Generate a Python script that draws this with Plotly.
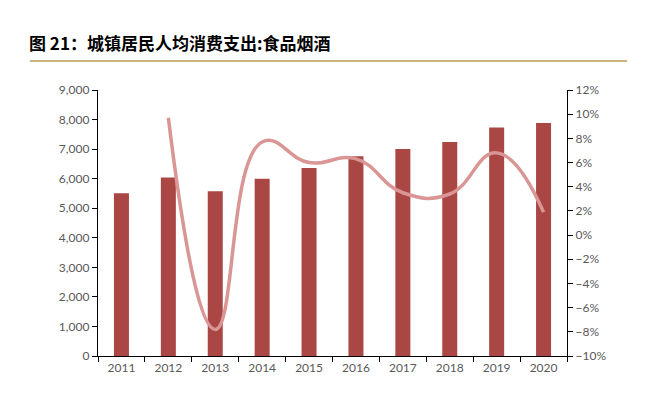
import plotly.graph_objects as go

years = ["2011", "2012", "2013", "2014", "2015", "2016", "2017", "2018", "2019", "2020"]
spending = [5506, 6041, 5571, 6000, 6360, 6762, 7001, 7239, 7733, 7881]
growth_years = ["2012", "2013", "2014", "2015", "2016", "2017", "2018", "2019", "2020"]
growth_pct = [9.7, -7.8, 7.7, 6.0, 6.3, 3.5, 3.4, 6.8, 1.9]

title_text = "图 21：城镇居民人均消费支出:食品烟酒"

bar_color = "#AA4643"
line_color = "#D99694"
tick_font = dict(family="Lato, 'Open Sans', sans-serif", size=12, color="#595959")

fig = go.Figure()
fig.add_trace(go.Bar(x=years, y=spending, marker=dict(color=bar_color, line=dict(width=0)),
                     yaxis="y", showlegend=False))
fig.add_trace(go.Scatter(x=growth_years, y=growth_pct, mode="lines",
                         line=dict(color=line_color, width=3.5, shape="spline", smoothing=1.3),
                         yaxis="y2", showlegend=False))

fig.update_layout(
    width=648, height=385,
    margin=dict(l=90, r=89, t=82, b=37),
    paper_bgcolor="white", plot_bgcolor="white",
    bargap=0.68,
    xaxis=dict(type="category", range=[-0.5, 9.5], showline=True, linecolor="#000000", linewidth=1.3,
               ticks="outside", tickson="boundaries", ticklen=5, tickcolor="#000000",
               tickfont=tick_font, showgrid=False, fixedrange=True),
    yaxis=dict(range=[0, 9000], dtick=1000, tickformat=",", showline=True, linecolor="#000000",
               linewidth=1.3, ticks="outside", ticklen=5, tickcolor="#000000",
               tickfont=tick_font, showgrid=False, zeroline=False),
    yaxis2=dict(range=[-10, 12], dtick=2, ticksuffix="%", overlaying="y", side="right",
                showline=True, linecolor="#000000", linewidth=1.3, ticks="outside", ticklen=5,
                tickcolor="#000000", tickfont=tick_font, showgrid=False, zeroline=False),
    annotations=[dict(text="<b>" + title_text + "</b>", xref="paper", yref="paper",
                      x=-0.152, y=1.18, xanchor="left", yanchor="middle", showarrow=False,
                      font=dict(family="'Noto Sans CJK SC', sans-serif", size=17, color="#000000"))],
    shapes=[dict(type="line", xref="paper", yref="paper", x0=-0.145, x1=1.128, y0=1.109, y1=1.109,
                 line=dict(color="#C9B37E", width=2))],
)

fig.write_html("out.html")
